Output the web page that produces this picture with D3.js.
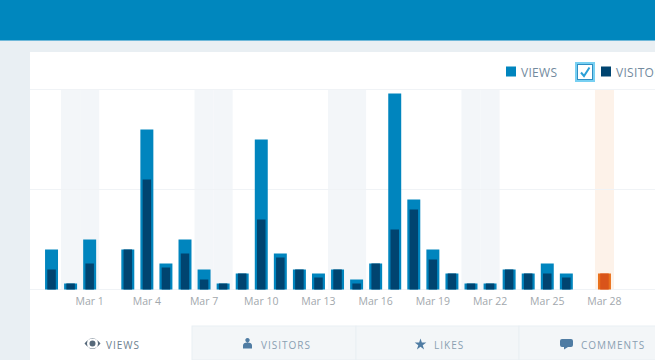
<!DOCTYPE html>
<html>
<head>
<meta charset="utf-8">
<script src="https://cdn.jsdelivr.net/npm/d3@7"></script>
<style>
html, body { margin: 0; padding: 0; background: #e9eff3; overflow: hidden; }
text { font-family: "Open Sans", sans-serif; }
.axis path, .axis line { display: none; }
.axis text { font-size: 10.5px; fill: #a2a8ad; }
</style>
</head>
<body>
<div id="chart"></div>
<script>
var days = ["Feb 27","Feb 28","Mar 1","Mar 2","Mar 3","Mar 4","Mar 5","Mar 6","Mar 7","Mar 8",
    "Mar 9","Mar 10","Mar 11","Mar 12","Mar 13","Mar 14","Mar 15","Mar 16","Mar 17","Mar 18",
    "Mar 19","Mar 20","Mar 21","Mar 22","Mar 23","Mar 24","Mar 25","Mar 26","Mar 27","Mar 28"];
var views = [20,3,25,0,20,80,13,25,10,3,8,75,18,10,8,10,5,13,98,45,20,8,3,3,10,8,13,8,0,8];
var visitors = [10,3,13,0,20,55,11,18,5,3,8,35,16,10,6,10,3,13,30,40,15,8,3,3,10,8,8,6,0,8];
var weekends = ["Feb 28","Mar 1","Mar 7","Mar 8","Mar 14","Mar 15","Mar 21","Mar 22"];
var today = "Mar 28";
var tickLabels = ["Mar 1","Mar 4","Mar 7","Mar 10","Mar 13","Mar 16","Mar 19","Mar 22","Mar 25","Mar 28"];
var gridTicks = [0,50,100];
var tabs = ["VIEWS","VISITORS","LIKES","COMMENTS"];

var width = 655, height = 360;

var svg = d3.select("#chart")
    .append("svg")
    .attr("width", width)
    .attr("height", height)
    .style("display", "block");

// page furniture
svg.append("rect").attr("width", width).attr("height", 40).attr("fill", "#0087be");
svg.append("rect").attr("y", 40).attr("width", width).attr("height", 1).attr("fill", "#6fb8d9");
svg.append("rect").attr("x", 30).attr("y", 52).attr("width", 625).attr("height", 308).attr("fill", "#fff");

var x = d3.scaleBand()
    .domain(days)
    .range([42, 614])
    .paddingInner(0.32)
    .paddingOuter(0.16);

var y = d3.scaleLinear()
    .domain([0, 100])
    .range([289.5, 89.5]);

// weekend columns
svg.append("g").selectAll("rect")
    .data(weekends)
    .enter()
    .append("rect")
    .attr("x", function(d){ return x(d) - x.step() * 0.16; })
    .attr("y", y(100))
    .attr("width", x.step())
    .attr("height", y(0) - y(100))
    .attr("fill", "#f3f6f9");

svg.append("rect")
    .attr("x", x(today) - x.step() * 0.16)
    .attr("y", y(100))
    .attr("width", x.step())
    .attr("height", y(0) - y(100))
    .attr("fill", "#fdf2e9");

// grid lines
svg.append("g").selectAll("line")
    .data(gridTicks)
    .enter()
    .append("line")
    .attr("x1", 30)
    .attr("x2", width)
    .attr("y1", function(d){ return y(d); })
    .attr("y2", function(d){ return y(d); })
    .attr("stroke", "#f0f3f6")
    .attr("stroke-width", 1);

// bars
svg.append("g").selectAll("rect")
    .data(days)
    .enter()
    .append("rect")
    .attr("x", function(d){ return x(d); })
    .attr("y", function(d,i){ return y(views[i]); })
    .attr("width", x.bandwidth())
    .attr("height", function(d,i){ return y(0) - y(views[i]); })
    .attr("fill", function(d){ return d === today ? "#e9711c" : "#0085be"; });

var innerW = 8.5;
svg.append("g").selectAll("rect")
    .data(days)
    .enter()
    .append("rect")
    .attr("x", function(d){ return x(d) + (x.bandwidth() - innerW) / 2; })
    .attr("y", function(d,i){ return y(visitors[i]); })
    .attr("width", innerW)
    .attr("height", function(d,i){ return y(0) - y(visitors[i]); })
    .attr("fill", function(d){ return d === today ? "#d9541a" : "#004470"; });

// x axis
svg.append("g")
    .attr("class", "axis")
    .attr("transform", "translate(0,292)")
    .call(d3.axisBottom(x).tickValues(tickLabels).tickSize(0).tickPadding(6))
    .select(".domain").remove();

// legend
var legend = svg.append("g");
legend.append("rect").attr("x", 506).attr("y", 66.5).attr("width", 10).attr("height", 10).attr("fill", "#0085be");
legend.append("text").attr("x", 521).attr("y", 76.5).text("VIEWS")
    .style("font-size", "12px").style("letter-spacing", "0.3px").attr("fill", "#738a9e");
legend.append("rect").attr("x", 576).attr("y", 63).attr("width", 18).attr("height", 18)
    .attr("fill", "#fff").attr("stroke", "#78d0f2").attr("stroke-width", 2);
legend.append("rect").attr("x", 577.5).attr("y", 64.5).attr("width", 15).attr("height", 15)
    .attr("fill", "#fff").attr("stroke", "#2f8fc4").attr("stroke-width", 1);
legend.append("path").attr("d", "M581 72.5 L584 76 L589.5 67.5").attr("fill", "none")
    .attr("stroke", "#2aa0d8").attr("stroke-width", 2);
legend.append("rect").attr("x", 601).attr("y", 66.5).attr("width", 10).attr("height", 10).attr("fill", "#004470");
legend.append("text").attr("x", 616).attr("y", 76.5).text("VISITORS")
    .style("font-size", "12px").style("letter-spacing", "0.3px").attr("fill", "#738a9e");

// tabs
var tabX = [30, 192, 356, 519, 681];
var tabG = svg.append("g");
tabG.selectAll("rect")
    .data(tabs)
    .enter()
    .append("rect")
    .attr("x", function(d,i){ return tabX[i]; })
    .attr("y", 326)
    .attr("width", function(d,i){ return tabX[i+1] - tabX[i]; })
    .attr("height", 34)
    .attr("fill", function(d,i){ return i === 0 ? "#fff" : "#f3f6f8"; })
    .attr("stroke", function(d,i){ return i === 0 ? "none" : "#e9eff3"; });

var tabTextX = [106, 261, 434, 581];
tabG.selectAll("text")
    .data(tabs)
    .enter()
    .append("text")
    .attr("x", function(d,i){ return tabTextX[i]; })
    .attr("y", 349)
    .text(function(d){ return d; })
    .style("font-size", "10px")
    .style("letter-spacing", "1px")
    .attr("fill", function(d,i){ return i === 0 ? "#6d7f8e" : "#8aa0b2"; });

// tab icons
tabG.append("path")
    .attr("d", "M84.5 343.500 Q92.500 333.500 100.500 343.500 Q92.500 353.500 84.500 343.500 Z M87 343.500 a5.500 5.500 0 1 0 11 0 a5.500 5.500 0 1 0 -11 0 Z M89.500 343.500 a3 3 0 1 1 6 0 a3 3 0 1 1 -6 0 Z")
    .attr("fill", "#57697a").attr("fill-rule", "evenodd");
tabG.append("path")
    .attr("d", "M247.500 338 a2.200 2.200 0 1 1 -0.01 0 Z M243 348.500 v-3 q0 -3 4.500 -3 q4.500 0 4.500 3 v3 Z")
    .attr("fill", "#4f7ca3");
tabG.append("path")
    .attr("d", d3.symbol().type(d3.symbolStar).size(42)())
    .attr("transform", "translate(420.500,344.500)")
    .attr("fill", "#4f7ca3");
tabG.append("path")
    .attr("d", "M562 339 h9 q2 0 2 2 v4 q0 2 -2 2 h-3 l-4 2.500 v-2.500 h-2 q-2 0 -2 -2 v-4 q0 -2 2 -2 Z")
    .attr("fill", "#4f7ca3");
</script>
</body>
</html>
